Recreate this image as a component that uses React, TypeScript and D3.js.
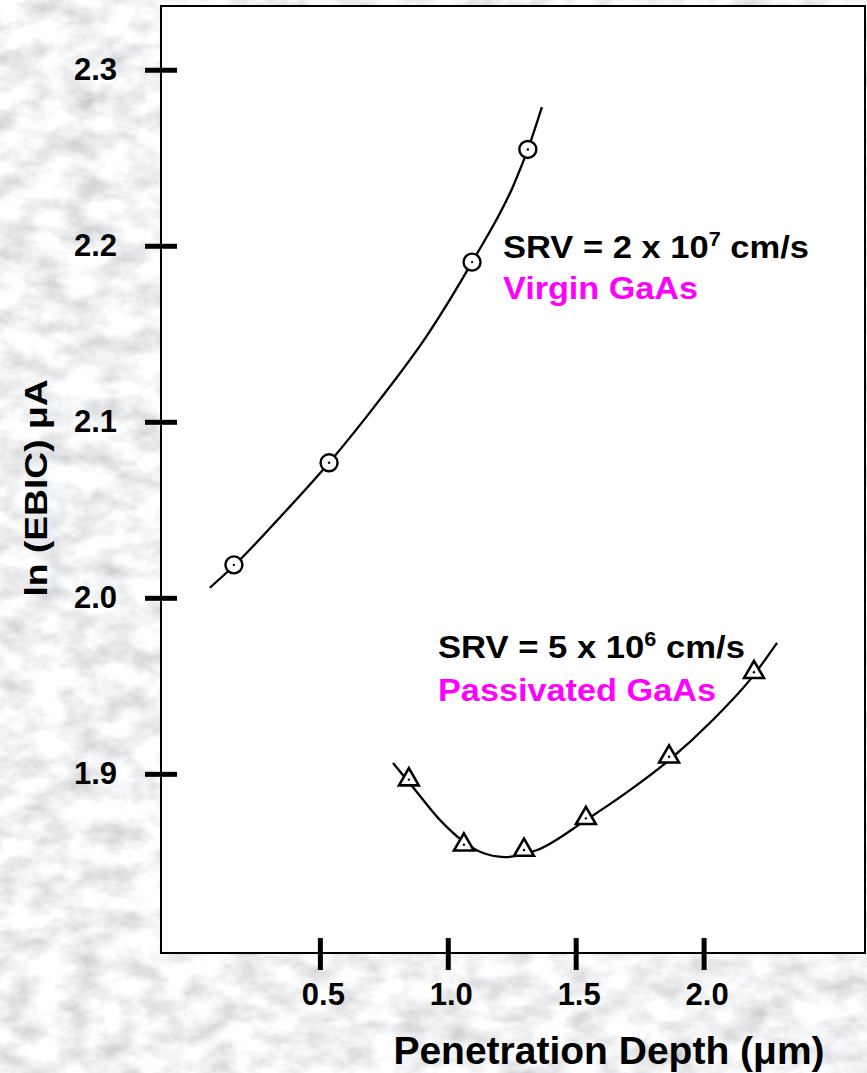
import React from "react";
import * as d3 from "d3";

// tick values
const xTicks = [0.5, 1.0, 1.5, 2.0];
const yTicks = [1.9, 2.0, 2.1, 2.2, 2.3];

// measured points, virgin GaAs (circles)
const virginDepth = [0.162, 0.534, 1.093, 1.311];
const virginLn = [2.019, 2.077, 2.191, 2.255];

// hand drawn fit through the virgin data
const virginFitDepth = [0.068, 0.162, 0.342, 0.534, 0.733, 0.92, 1.093, 1.253, 1.311, 1.366];
const virginFitLn = [2.006, 2.0185, 2.046, 2.077, 2.113, 2.150, 2.191, 2.234, 2.255, 2.279];

// measured points, passivated GaAs (triangles)
const passDepth = [0.846, 1.061, 1.296, 1.538, 1.863, 2.195];
const passLn = [1.897, 1.860, 1.857, 1.875, 1.910, 1.958];

// hand drawn fit through the passivated data
const passFitDepth = [0.784, 0.866, 0.968, 1.124, 1.222, 1.347, 1.538, 1.71, 1.863, 2.035, 2.195, 2.285];
const passFitLn = [1.9065, 1.892, 1.874, 1.856, 1.853, 1.857, 1.874, 1.891, 1.908, 1.931, 1.9565, 1.9747];

const W = 867;
const H = 1073;
const plot = { left: 161, right: 865, top: 6, bottom: 953 };

const font = "'Liberation Sans', Arial, Helvetica, sans-serif";

export default function App() {
  const x = d3.scaleLinear().domain([-0.123, 2.629]).range([plot.left, plot.right]);
  const y = d3.scaleLinear().domain([1.7985, 2.3365]).range([plot.bottom, plot.top]);

  const line = d3
    .line<[number, number]>()
    .x(d => x(d[0]))
    .y(d => y(d[1]))
    .curve(d3.curveMonotoneX);

  const virginFit = virginFitDepth.map((d, i) => [d, virginFitLn[i]] as [number, number]);
  const passFit = passFitDepth.map((d, i) => [d, passFitLn[i]] as [number, number]);

  const tri = d3.symbol().type(d3.symbolTriangle).size(170)();

  return (
    <svg
      width={W}
      height={H}
      style={{ position: "absolute", left: 0, top: 0, display: "block" }}
      fontFamily={font}
      fontWeight="bold"
    >
      <defs>
        <filter id="marble" x="0" y="0" width="100%" height="100%">
          <feTurbulence type="fractalNoise" baseFrequency="0.03 0.045" numOctaves={5} seed={11} result="n" />
          <feColorMatrix
            in="n"
            type="matrix"
            values="0.7 0 0 0 0.54  0.7 0 0 0 0.545  0.7 0 0 0 0.56  0 0 0 0 1"
          />
        </filter>
      </defs>

      {/* background */}
      <rect x={0} y={0} width={W} height={H} fill="#dcdde0" />
      <rect x={0} y={0} width={W} height={H} filter="url(#marble)" />

      {/* plot area */}
      <rect
        x={plot.left}
        y={plot.top}
        width={plot.right - plot.left}
        height={plot.bottom - plot.top}
        fill="#fff"
        stroke="#000"
        strokeWidth={2}
      />

      {/* y axis */}
      {yTicks.map(t => (
        <g key={t}>
          <line x1={145} x2={177} y1={y(t)} y2={y(t)} stroke="#000" strokeWidth={5} />
          <text x={117} y={y(t) + 10} textAnchor="end" fontSize={31}>
            {d3.format(".1f")(t)}
          </text>
        </g>
      ))}

      {/* x axis */}
      {xTicks.map(t => (
        <g key={t}>
          <line x1={x(t)} x2={x(t)} y1={938} y2={970} stroke="#000" strokeWidth={5} />
          <text x={x(t) + 3} y={1005} textAnchor="middle" fontSize={31}>
            {d3.format(".1f")(t)}
          </text>
        </g>
      ))}

      {/* axis titles */}
      <text x={609} y={1064} textAnchor="middle" fontSize={39}>
        Penetration Depth (μm)
      </text>
      <text
        transform="translate(47,488) rotate(-90)"
        textAnchor="middle"
        fontSize={32}
        textLength={217}
        lengthAdjust="spacingAndGlyphs"
      >
        ln (EBIC) μA
      </text>

      {/* fitted curves */}
      <path d={line(virginFit) ?? ""} fill="none" stroke="#000" strokeWidth={2.3} />
      <path d={line(passFit) ?? ""} fill="none" stroke="#000" strokeWidth={2.3} />

      {/* virgin markers */}
      {virginDepth.map((d, i) => (
        <g key={"v" + i} transform={`translate(${x(d)},${y(virginLn[i])})`}>
          <circle r={8.5} fill="#fff" stroke="#000" strokeWidth={2.4} />
          <circle r={1.2} fill="#000" />
        </g>
      ))}

      {/* passivated markers */}
      {passDepth.map((d, i) => (
        <g key={"p" + i} transform={`translate(${x(d)},${y(passLn[i])})`}>
          <path d={tri ?? ""} fill="#fff" stroke="#000" strokeWidth={2.6} />
          <circle r={1.2} fill="#000" />
        </g>
      ))}

      {/* annotations */}
      <text x={503} y={258} fontSize={32} textLength={306} lengthAdjust="spacingAndGlyphs">
        SRV = 2 x 10
        <tspan fontSize={20} dy={-12}>7</tspan>
        <tspan dy={12}> cm/s</tspan>
      </text>
      <text x={503} y={299} fontSize={32} fill="#ff00ff" textLength={195} lengthAdjust="spacingAndGlyphs">
        Virgin GaAs
      </text>
      <text x={438} y={658} fontSize={32} textLength={307} lengthAdjust="spacingAndGlyphs">
        SRV = 5 x 10
        <tspan fontSize={20} dy={-12}>6</tspan>
        <tspan dy={12}> cm/s</tspan>
      </text>
      <text x={438} y={701} fontSize={32} fill="#ff00ff" textLength={278} lengthAdjust="spacingAndGlyphs">
        Passivated GaAs
      </text>
    </svg>
  );
}
